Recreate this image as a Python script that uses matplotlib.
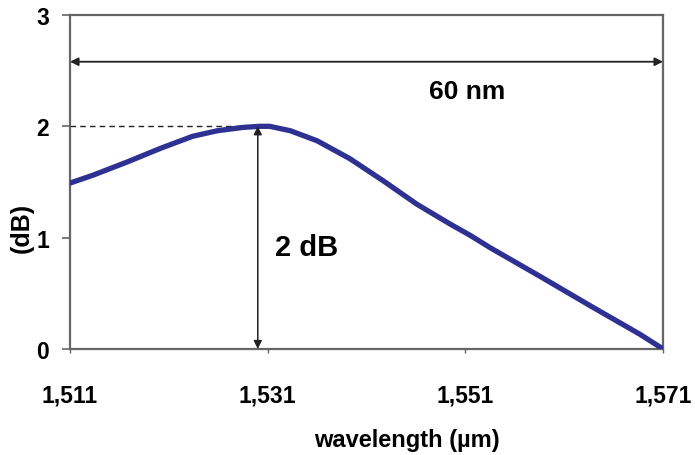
import matplotlib
matplotlib.use("Agg")
import matplotlib.pyplot as plt

# wavelength values (in µm, shown with comma decimal) and loss in dB
wavelength = [1.5110, 1.5133, 1.5168, 1.5201, 1.5234, 1.5259, 1.5285, 1.5302,
              1.5312, 1.5333, 1.5360, 1.5393, 1.5427, 1.5461, 1.5495, 1.5515,
              1.5535, 1.5586, 1.5636, 1.5687, 1.5710]
loss_db = [1.49, 1.56, 1.68, 1.80, 1.91, 1.96, 1.99, 2.00,
           2.00, 1.96, 1.87, 1.71, 1.51, 1.30, 1.12, 1.02,
           0.91, 0.65, 0.39, 0.13, 0.00]

x_ticks = [1.511, 1.531, 1.551, 1.571]
x_tick_labels = ["1,511", "1,531", "1,551", "1,571"]
y_ticks = [0, 1, 2, 3]

peak_x, peak_y = 1.5300, 2.0
span_y = 2.58

plt.rcParams["font.family"] = ["Liberation Sans", "DejaVu Sans"]
plt.rcParams["font.weight"] = "bold"

fig = plt.figure(figsize=(6.95, 4.56), dpi=100)
ax = fig.add_axes([0.1007, 0.2325, 0.8533, 0.7325])

ax.plot(wavelength, loss_db, color="#2e3192", linewidth=3.8,
        solid_capstyle="round", solid_joinstyle="round", zorder=3)

# dashed guide at the peak
ax.plot([x_ticks[0], peak_x], [peak_y, peak_y], color="#222222", linestyle=(0, (4, 3)), linewidth=1)

# 60 nm span arrow
ax.annotate("", xy=(x_ticks[-1], span_y), xytext=(x_ticks[0], span_y),
            arrowprops=dict(arrowstyle="<|-|>", color="#222222", lw=1.3,
                            mutation_scale=12, shrinkA=0, shrinkB=0))
ax.text(1.5512, 2.32, "60 nm", fontsize=19, fontweight="bold", ha="center", va="center")

# 2 dB vertical arrow
ax.annotate("", xy=(peak_x, peak_y), xytext=(peak_x, 0),
            arrowprops=dict(arrowstyle="<|-|>", color="#222222", lw=1.1,
                            mutation_scale=12, shrinkA=0, shrinkB=0))
ax.text(1.5317, 0.92, "2 dB", fontsize=21, fontweight="bold", ha="left", va="center")

ax.set_xlim(x_ticks[0], x_ticks[-1])
ax.set_ylim(0, 3)
ax.set_xticks(x_ticks)
ax.set_xticklabels(x_tick_labels)
ax.set_yticks(y_ticks)

for s in ax.spines.values():
    s.set_color("#666666")
    s.set_linewidth(1.6)

ax.tick_params(axis="y", direction="out", length=6, width=1.2, color="#666666",
               labelsize=16.5, pad=9)
ax.tick_params(axis="x", direction="out", length=3, width=1, color="#666666",
               labelsize=16.5, pad=22)

ax.set_xlabel("wavelength (µm)", fontsize=17, fontweight="bold", va="center")
ax.xaxis.set_label_coords(0.568, -0.27)
ax.set_ylabel("(dB)", fontsize=18, fontweight="bold", va="center")
ax.yaxis.set_label_coords(-0.081, 0.365)

fig.savefig("out.png", dpi=100)
